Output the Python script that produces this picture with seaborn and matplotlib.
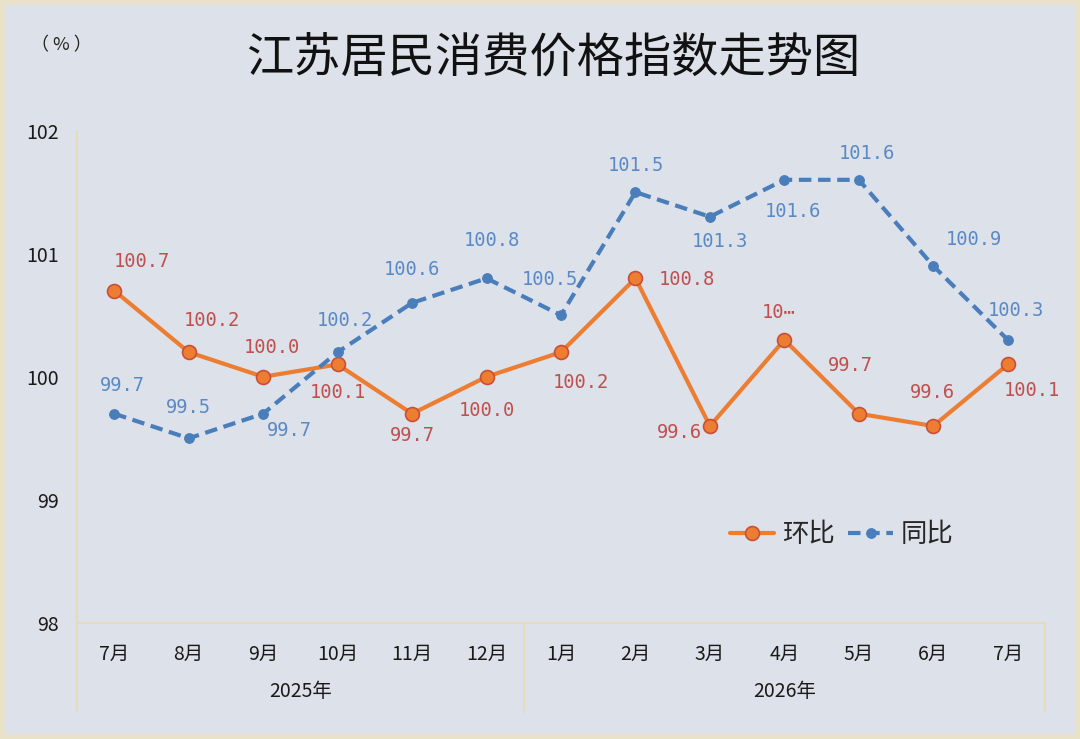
import numpy as np
import pandas as pd
import matplotlib
matplotlib.use("Agg")
import matplotlib.pyplot as plt
import matplotlib.transforms as mtransforms
from matplotlib.patches import Rectangle
import seaborn as sns

# data
months = ["7月", "8月", "9月", "10月", "11月", "12月",
          "1月", "2月", "3月", "4月", "5月", "6月", "7月"]
years = ["2025年", "2026年"]
year_spans = [(0, 5), (6, 12)]
mom = [100.7, 100.2, 100.0, 100.1, 99.7, 100.0, 100.2, 100.8, 99.6, 100.3, 99.7, 99.6, 100.1]
yoy = [99.7, 99.5, 99.7, 100.2, 100.6, 100.8, 100.5, 101.5, 101.3, 101.6, 101.6, 100.9, 100.3]
mom_labels = ["100.7", "100.2", "100.0", "100.1", "99.7", "100.0", "100.2",
              "100.8", "99.6", "10⋯", "99.7", "99.6", "100.1"]
yoy_labels = [f"{v:.1f}" for v in yoy]
yticks = [98, 99, 100, 101, 102]

df = pd.DataFrame({"idx": np.arange(len(months)), "环比": mom, "同比": yoy})

sns.set_theme(style="white")
plt.rcParams["font.family"] = ["Noto Sans CJK SC", "DejaVu Sans"]

BG = "#dce1ea"
FRAME = "#e9e2c9"
AXLINE = "#e6dcbc"
ORANGE = "#ed7d31"
ORANGE_EDGE = "#c94f38"
ORANGE_TXT = "#c0504d"
BLUE = "#4a7ebb"
BLUE_TXT = "#5a8ac6"

fig = plt.figure(figsize=(10.8, 7.39), dpi=100, facecolor=BG)
fig.patches.append(Rectangle((0.002, 0.003), 0.996, 0.994, transform=fig.transFigure,
                             fill=False, edgecolor=FRAME, linewidth=4))
ax = fig.add_axes([0.0713, 0.157, 0.8963, 0.6663])
ax.set_facecolor(BG)

sns.lineplot(data=df, x="idx", y="环比", ax=ax, color=ORANGE, linewidth=3,
             marker="o", markersize=10, markerfacecolor=ORANGE,
             markeredgecolor=ORANGE_EDGE, markeredgewidth=1.2, label="环比")
sns.lineplot(data=df, x="idx", y="同比", ax=ax, color=BLUE, linewidth=3,
             linestyle=(0, (3, 1.6)), marker="o", markersize=7,
             markerfacecolor=BLUE, markeredgecolor=BLUE, label="同比")

# label offsets (points)
mom_off = [(20, 21), (17, 23), (6, 21), (0, -20), (0, -16), (0, -24), (14, -22),
           (37, -1), (-22, -5), (-4, 20), (-6, 35), (-1, 24), (17, -19)]
yoy_off = [(6, 20), (0, 22), (19, -12), (5, 23), (0, 24), (4, 27), (-8, 26),
           (0, 19), (7, -18), (6, -23), (6, 19), (29, 19), (6, 21)]
mono = ["DejaVu Sans Mono", "Noto Sans CJK SC"]
for i, (v, t) in enumerate(zip(mom, mom_labels)):
    ax.annotate(t, (i, v), xytext=mom_off[i], textcoords="offset points",
                ha="center", va="center", fontsize=13.5, color=ORANGE_TXT, family=mono)
for i, (v, t) in enumerate(zip(yoy, yoy_labels)):
    ax.annotate(t, (i, v), xytext=yoy_off[i], textcoords="offset points",
                ha="center", va="center", fontsize=13.5, color=BLUE_TXT, family=mono)

ax.set_xlim(-0.5, len(months) - 0.5)
ax.set_ylim(98, 102)
ax.set_yticks(yticks)
ax.set_yticklabels([str(t) for t in yticks], fontsize=14, color="#1a1a1a")
ax.set_xticks(np.arange(len(months)))
ax.set_xticklabels(months, fontsize=14, color="#1a1a1a")
ax.tick_params(axis="x", length=0, pad=15)
ax.tick_params(axis="y", direction="in", length=5, color=AXLINE, pad=13)
ax.set_xlabel("")
ax.set_ylabel("")
for s in ["top", "right"]:
    ax.spines[s].set_visible(False)
for s in ["left", "bottom"]:
    ax.spines[s].set_color(AXLINE)
    ax.spines[s].set_linewidth(1.5)

# two-level category axis
trans = mtransforms.blended_transform_factory(ax.transData, ax.transAxes)
for x in [-0.5, 5.5, 12.5]:
    ax.plot([x, x], [0, -0.181], transform=trans, color=AXLINE, lw=1.5, clip_on=False)
for name, (a, b) in zip(years, year_spans):
    ax.text((a + b) / 2, -0.14, name, transform=trans, ha="center", va="center",
            fontsize=14, color="#1a1a1a")

leg = ax.legend(loc="center", bbox_to_anchor=(0.79, 0.179), frameon=False, ncol=2,
                fontsize=19, handlelength=1.7, columnspacing=0.5, handletextpad=0.3,
                borderpad=0, borderaxespad=0)

fig.text(0.512, 0.921, "江苏居民消费价格指数走势图", ha="center", va="center",
         fontsize=34, fontweight="medium", color="#111111")
fig.text(0.057, 0.939, "（ % ）", ha="center", va="center", fontsize=13, color="#222222")

fig.savefig("out.png", dpi=100, facecolor=BG)
